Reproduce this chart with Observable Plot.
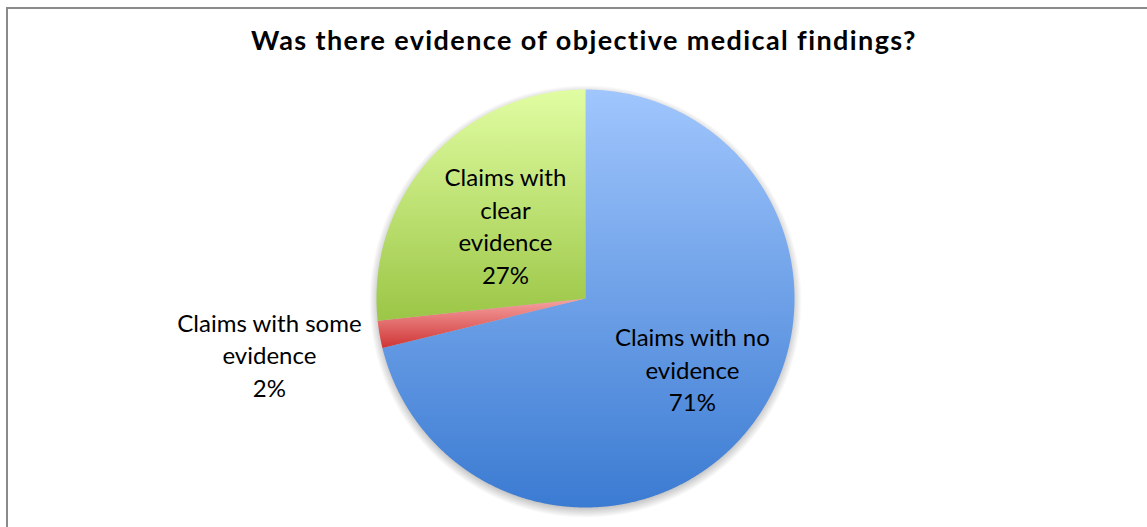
<!DOCTYPE html>
<html>
<head>
<meta charset="utf-8">
<script src="https://cdn.jsdelivr.net/npm/d3@7"></script>
<script src="https://cdn.jsdelivr.net/npm/@observablehq/plot@0.6"></script>
<style>
  html, body { margin: 0; padding: 0; background: #fff; }
  #wrap { position: relative; width: 1147px; height: 527px; overflow: hidden; }
  #frame { position: absolute; left: 6px; top: 7px; width: 1300px; height: 700px;
           border-top: 2px solid #8a8a8a; border-left: 2px solid #8a8a8a; }
  #title { position: absolute; left: 0; top: 26px; width: 1168px; text-align: center;
           font-family: Lato, "Open Sans", sans-serif; font-weight: bold; font-size: 27px;
           line-height: 27px; letter-spacing: 1.4px; color: #000; }
  #chart { position: absolute; left: 0; top: 0; }
</style>
</head>
<body>
<div id="wrap">
  <div id="frame"></div>
  <div id="chart"></div>
  <div id="title">Was there evidence of objective medical findings?</div>
</div>
<script>
// ---- data ----
const categories = ["Claims with no evidence", "Claims with some evidence", "Claims with clear evidence"];
const shares = [71.2, 2.1, 26.7];
const labelTexts = ["Claims with no\nevidence", "Claims with some\nevidence", "Claims with\nclear\nevidence"];

// ---- layout ----
const W = 1147, H = 527;
const cx = 585, cy = 298, R = 209;
const gradIds = ["gBlue", "gRed", "gGreen"];
const labelRadius = [0.62, 1.54, 0.515];
const labelNudge = [[5, -10], [1, 0], [0, -2]]; // pixels

const rows = categories.map((c, i) => ({category: c, value: shares[i], label: labelTexts[i], grad: gradIds[i]}));
const arcs = d3.pie().sort(null).value(d => d.value)(rows);

function slicePoints(a) {
  const pts = [{x: 0, y: 0}];
  const n = Math.max(4, Math.ceil((a.endAngle - a.startAngle) / 0.005));
  for (let j = 0; j <= n; j++) {
    const t = a.startAngle + (a.endAngle - a.startAngle) * j / n;
    pts.push({x: Math.sin(t), y: -Math.cos(t)});
  }
  pts.push({x: 0, y: 0});
  return pts;
}

const circle = d3.range(0, 721).map(j => {
  const t = j / 720 * 2 * Math.PI;
  return {x: Math.sin(t) * 1.035, y: -Math.cos(t) * 1.035};
});

const labelRows = arcs.map((a, i) => {
  const m = (a.startAngle + a.endAngle) / 2;
  const k = labelRadius[i];
  return {x: Math.sin(m) * k + labelNudge[i][0] / R, y: -Math.cos(m) * k + labelNudge[i][1] / R,
          text: a.data.label + "\n" + Math.round(a.data.value) + "%"};
});

const defs = () => {
  const ns = "http://www.w3.org/2000/svg";
  const g = document.createElementNS(ns, "defs");
  g.innerHTML = `
    <linearGradient id="gBlue" x1="0" y1="0" x2="0" y2="1">
      <stop offset="0" stop-color="#a0c6fd"/>
      <stop offset="1" stop-color="#3b7bd2"/>
    </linearGradient>
    <linearGradient id="gRed" x1="0" y1="0" x2="0" y2="1">
      <stop offset="0" stop-color="#f6a3a3"/>
      <stop offset="1" stop-color="#cf3535"/>
    </linearGradient>
    <linearGradient id="gGreen" x1="0" y1="0" x2="0" y2="1">
      <stop offset="0" stop-color="#e1fda2"/>
      <stop offset="1" stop-color="#9bc646"/>
    </linearGradient>
    <radialGradient id="gShadow" cx="0.5" cy="0.5" r="0.5">
      <stop offset="0" stop-color="#000" stop-opacity="0.28"/>
      <stop offset="0.955" stop-color="#000" stop-opacity="0.22"/>
      <stop offset="1" stop-color="#000" stop-opacity="0"/>
    </radialGradient>`;
  return g;
};

const marks = [defs, Plot.line(circle, {x: "x", y: "y", fill: "url(#gShadow)", stroke: "none", dy: 3})];
arcs.forEach((a) => {
  marks.push(Plot.line(slicePoints(a), {x: "x", y: "y", fill: `url(#${a.data.grad})`, stroke: "none", curve: "linear"}));
});
marks.push(Plot.text(labelRows, {
  x: "x", y: "y", text: "text", fontSize: 24, lineHeight: 1.354,
  fontFamily: "Lato, 'Open Sans', sans-serif", fill: "#000", textAnchor: "middle"
}));

const chart = Plot.plot({
  width: W, height: H,
  margin: 0,
  x: {domain: [-1, 1], range: [cx - R, cx + R], axis: null},
  y: {domain: [-1, 1], range: [cy - R, cy + R], axis: null},
  style: {background: "transparent", overflow: "visible"},
  marks
});
document.getElementById("chart").appendChild(chart);
</script>
</body>
</html>
